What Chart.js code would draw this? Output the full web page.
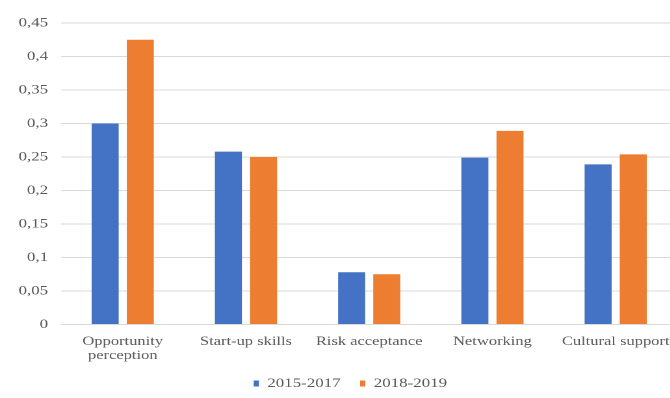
<!DOCTYPE html>
<html>
<head>
<meta charset="utf-8">
<script src="https://cdn.jsdelivr.net/npm/chart.js@4/dist/chart.umd.min.js"></script>
<style>
  html, body { margin: 0; padding: 0; background: #ffffff; overflow: hidden; }
  /* the chart is laid out narrow and widened horizontally, giving the wide lettering */
  #wrap { width: 542px; height: 400px; position: relative; transform: scaleX(1.3); transform-origin: 0 0; }
</style>
</head>
<body>
<div id="wrap"><canvas id="chart"></canvas></div>
<script>
// Entrepreneurial attitude indicators, two survey periods
const categories = [["Opportunity", "perception"], "Start-up skills", "Risk acceptance", "Networking", "Cultural support"];
const period1Label = "2015-2017";
const period2Label = "2018-2019";
const period1Values = [0.30, 0.258, 0.078, 0.249, 0.239];
const period2Values = [0.425, 0.25, 0.075, 0.289, 0.254];
const yTicks = [0, 0.05, 0.1, 0.15, 0.2, 0.25, 0.3, 0.35, 0.4, 0.45];

const serif = "'Liberation Serif', 'Times New Roman', serif";
const textGrey = "#595959";

// nudge the legend row a little to the right of the canvas centre
const legendShift = {
  id: "legendShift",
  afterLayout(chart) {
    const lg = chart.legend;
    if (lg) { lg.left += 9; lg.right += 9; }
  }
};

new Chart(document.getElementById("chart"), {
  type: "bar",
  data: {
    labels: categories,
    datasets: [
      { label: period1Label, data: period1Values, backgroundColor: "#4472C4", categoryPercentage: 0.57, barPercentage: 0.77 },
      { label: period2Label, data: period2Values, backgroundColor: "#ED7D31", categoryPercentage: 0.57, barPercentage: 0.77 }
    ]
  },
  plugins: [legendShift],
  options: {
    responsive: true,
    maintainAspectRatio: false,
    animation: false,
    devicePixelRatio: 2,
    layout: { padding: { top: 23, right: 21, left: 0, bottom: 0 } },
    plugins: {
      tooltip: { enabled: false },
      legend: {
        position: "bottom",
        labels: {
          boxWidth: 4,
          boxHeight: 6,
          padding: 15,
          color: textGrey,
          font: { family: serif, size: 13 }
        }
      }
    },
    scales: {
      x: {
        afterFit: (scale) => { scale.height = 37.5; },
        grid: { display: false, drawTicks: false },
        border: { display: false },
        ticks: {
          color: textGrey,
          padding: 10,
          maxRotation: 0,
          autoSkip: false,
          font: { family: serif, size: 12.7, lineHeight: 1.1 }
        }
      },
      y: {
        min: 0,
        max: 0.45,
        afterBuildTicks: (scale) => { scale.ticks = yTicks.map(v => ({ value: v })); },
        afterFit: (scale) => { scale.width = 47; },
        grid: { color: "#d9d9d9", drawTicks: false, lineWidth: 1 },
        border: { display: false },
        ticks: {
          color: textGrey,
          padding: 10,
          autoSkip: false,
          font: { family: serif, size: 13 },
          callback: (v) => String(Math.round(v * 100) / 100).replace(".", ",")
        }
      }
    }
  }
});
</script>
</body>
</html>
